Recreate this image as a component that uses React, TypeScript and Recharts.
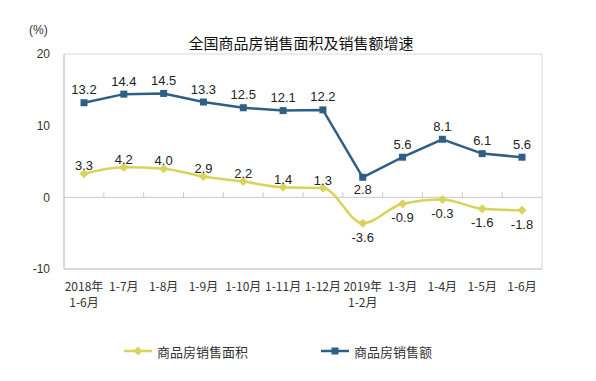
import {
  CartesianGrid,
  LabelList,
  Legend,
  Line,
  LineChart,
  ReferenceLine,
  XAxis,
  YAxis,
} from 'recharts'

// ---------------------------------------------------------------------------
// Data
// ---------------------------------------------------------------------------

const MONTHS = [
  '2018年\n1-6月',
  '1-7月',
  '1-8月',
  '1-9月',
  '1-10月',
  '1-11月',
  '1-12月',
  '2019年\n1-2月',
  '1-3月',
  '1-4月',
  '1-5月',
  '1-6月',
]

const AREA_GROWTH = [3.3, 4.2, 4.0, 2.9, 2.2, 1.4, 1.3, -3.6, -0.9, -0.3, -1.6, -1.8]
const SALES_GROWTH = [13.2, 14.4, 14.5, 13.3, 12.5, 12.1, 12.2, 2.8, 5.6, 8.1, 6.1, 5.6]
const Y_TICKS = [-10, 0, 10, 20]

const AREA_NAME = '商品房销售面积'
const SALES_NAME = '商品房销售额'
const TITLE = '全国商品房销售面积及销售额增速'

const AREA_COLOR = '#D8D35A'
const SALES_COLOR = '#2E5F85'
const AXIS_COLOR = '#c8c8c8'

const NUM_FONT = '"Liberation Sans", Arial, sans-serif'
const CJK_FONT = '"Noto Sans CJK SC", "Noto Sans", sans-serif'

const data = MONTHS.map((month, i) => ({
  month,
  area: AREA_GROWTH[i],
  sales: SALES_GROWTH[i],
}))

// ---------------------------------------------------------------------------
// Shapes
// ---------------------------------------------------------------------------

function SquareDot(props: any) {
  const { cx, cy } = props
  if (cx == null || cy == null) return null
  return <rect x={cx - 3.5} y={cy - 3.5} width={7} height={7} fill={SALES_COLOR} />
}

function DiamondDot(props: any) {
  const { cx, cy } = props
  if (cx == null || cy == null) return null
  const r = 4.5
  return (
    <polygon
      points={`${cx},${cy - r} ${cx + r},${cy} ${cx},${cy + r} ${cx - r},${cy}`}
      fill={AREA_COLOR}
    />
  )
}

function MonthTick(props: any) {
  const { x, y, payload } = props
  const lines = String(payload.value).split('\n')
  return (
    <text x={x} y={y} textAnchor="middle" fontSize={12} fill="#333" fontFamily={CJK_FONT}>
      {lines.map((line, i) => (
        <tspan key={i} x={x} dy={i === 0 ? 14 : 16}>
          {line}
        </tspan>
      ))}
    </text>
  )
}

function makeLabel(isBelow: (value: number, index: number) => boolean, above: number, below: number) {
  return (props: any) => {
    const { x, y, value, index } = props
    const down = isBelow(value, index)
    return (
      <text
        x={x}
        y={down ? y + below : y - above}
        textAnchor="middle"
        dominantBaseline="central"
        fontSize={13}
        fill="#222"
        fontFamily={NUM_FONT}
      >
        {Number(value).toFixed(1)}
      </text>
    )
  }
}

function ZeroLine(props: any) {
  const { x1, x2, y1 } = props
  const step = (x2 - x1) / MONTHS.length
  return (
    <g>
      <line x1={x1} x2={x2} y1={y1} y2={y1} stroke={AXIS_COLOR} />
      {MONTHS.slice(1).map((_, i) => (
        <line
          key={i}
          x1={x1 + step * (i + 1)}
          x2={x1 + step * (i + 1)}
          y1={y1}
          y2={y1 - 5}
          stroke={AXIS_COLOR}
        />
      ))}
    </g>
  )
}

function LegendContent() {
  const item = (left: number, color: string, name: string, square: boolean) => (
    <div style={{ position: 'absolute', left, top: 0, display: 'flex', alignItems: 'center', height: 20 }}>
      <svg width={30} height={12}>
        <line x1={0} x2={28} y1={6} y2={6} stroke={color} strokeWidth={2.5} />
        {square ? (
          <rect x={10.5} y={2.5} width={7} height={7} fill={color} />
        ) : (
          <polygon points="14,1.5 18.5,6 14,10.5 9.5,6" fill={color} />
        )}
      </svg>
      <span style={{ fontSize: 13, color: '#333', fontFamily: CJK_FONT, marginLeft: 3 }}>{name}</span>
    </div>
  )
  return (
    <div style={{ position: 'relative', height: 20, width: 596 }}>
      {item(124, AREA_COLOR, AREA_NAME, false)}
      {item(321, SALES_COLOR, SALES_NAME, true)}
    </div>
  )
}

// ---------------------------------------------------------------------------
// Chart
// ---------------------------------------------------------------------------

export default function App() {
  return (
    <div style={{ position: 'absolute', left: 0, top: 0, width: 596, height: 381, background: '#fff' }}>
      <div
        style={{
          position: 'absolute',
          top: 34,
          left: 0,
          width: 602,
          textAlign: 'center',
          fontSize: 15,
          lineHeight: '18px',
          color: '#111',
          fontFamily: CJK_FONT,
        }}
      >
        {TITLE}
      </div>
      <div
        style={{
          position: 'absolute',
          top: 22,
          left: 29,
          fontSize: 12,
          lineHeight: '16px',
          color: '#333',
          fontFamily: NUM_FONT,
        }}
      >
        (%)
      </div>
      <LineChart
        width={596}
        height={381}
        data={data}
        margin={{ top: 54, right: 54, bottom: 52, left: 0 }}
      >
        <CartesianGrid
          stroke="#d8d8d8"
          horizontalCoordinatesGenerator={({ offset }: any) => [offset.top, offset.top + offset.height]}
          verticalCoordinatesGenerator={({ offset }: any) => [offset.left, offset.left + offset.width]}
        />
        <XAxis
          dataKey="month"
          interval={0}
          height={40}
          padding={{ left: 20, right: 20 }}
          tickLine={false}
          axisLine={{ stroke: AXIS_COLOR }}
          tick={<MonthTick />}
        />
        <YAxis
          domain={[-10, 20]}
          ticks={Y_TICKS}
          width={64}
          tickLine={false}
          tickMargin={8}
          axisLine={{ stroke: AXIS_COLOR }}
          tick={{ fontSize: 12, fill: '#333', fontFamily: NUM_FONT }}
        />
        <ReferenceLine y={0} shape={<ZeroLine />} />
        <Line
          dataKey="area"
          name={AREA_NAME}
          type="monotone"
          stroke={AREA_COLOR}
          strokeWidth={2.5}
          dot={<DiamondDot />}
          activeDot={false}
          isAnimationActive={false}
        >
          <LabelList dataKey="area" content={makeLabel((v) => v < 0, 8, 14)} />
        </Line>
        <Line
          dataKey="sales"
          name={SALES_NAME}
          type="linear"
          stroke={SALES_COLOR}
          strokeWidth={2.5}
          dot={<SquareDot />}
          activeDot={false}
          isAnimationActive={false}
        >
          <LabelList dataKey="sales" content={makeLabel((_, i) => i === 7, 13, 12)} />
        </Line>
        <Legend
          verticalAlign="bottom"
          wrapperStyle={{ left: 0, bottom: 20, width: 596 }}
          content={() => <LegendContent />}
        />
      </LineChart>
    </div>
  )
}
